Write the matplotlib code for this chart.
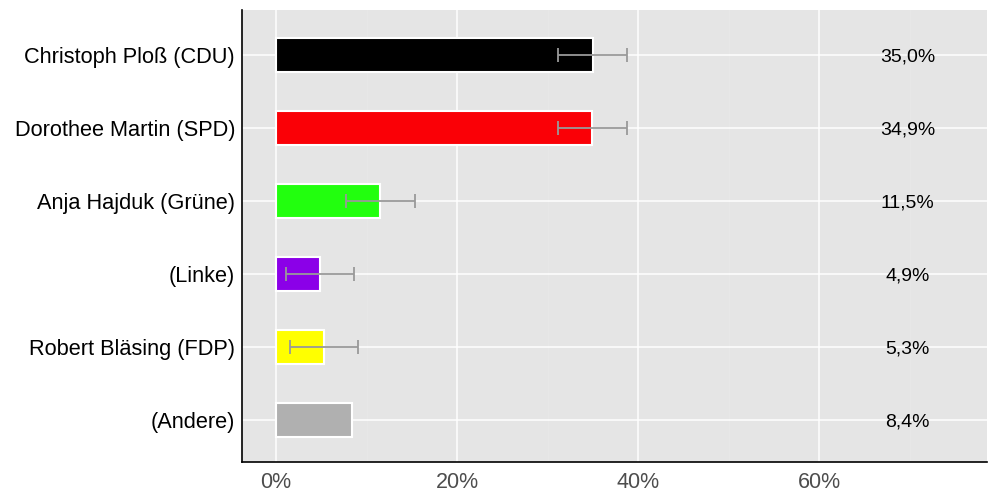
import matplotlib
matplotlib.use("Agg")
import matplotlib.pyplot as plt
from matplotlib.ticker import FuncFormatter, MultipleLocator

candidates = ["Christoph Ploß (CDU)", "Dorothee Martin (SPD)", "Anja Hajduk (Grüne)",
              "(Linke)", "Robert Bläsing (FDP)", "(Andere)"]
values = [35.0, 34.9, 11.5, 4.9, 5.3, 8.4]
err_low = [31.2, 31.2, 7.75, 1.1, 1.5, None]
err_high = [38.8, 38.8, 15.35, 8.65, 9.1, None]
labels = ["35,0%", "34,9%", "11,5%", "4,9%", "5,3%", "8,4%"]
colors = ["#000000", "#FA0006", "#22FF0E", "#8B00E8", "#FFFF00", "#B0B0B0"]

plt.rcParams['font.family'] = ['Liberation Sans', 'DejaVu Sans']

fig = plt.figure(figsize=(10, 5), dpi=100)
ax = fig.add_axes([0.242, 0.076, 0.745, 0.904])
ax.set_facecolor("#E5E5E5")

ypos = list(range(len(candidates)))
ax.barh(ypos, values, height=0.46, color=colors, edgecolor="white", linewidth=1.5, zorder=3)

for y, lo, hi, v in zip(ypos, err_low, err_high, values):
    if lo is None:
        continue
    ax.errorbar([(lo + hi) / 2], [y], xerr=[[(hi - lo) / 2], [(hi - lo) / 2]], fmt="none",
                ecolor="#999999", elinewidth=1.3, capsize=5, capthick=1.3, zorder=4)

for y, lab in zip(ypos, labels):
    ax.text(69.8, y + 0.03, lab, ha="center", va="center", fontsize=14, color="black", zorder=5)

ax.set_xlim(-3.76, 78.56)
ax.set_ylim(5.575, -0.616)
ax.set_yticks(ypos)
ax.set_yticklabels(candidates, fontsize=15.7, color="black")
ax.xaxis.set_major_locator(MultipleLocator(20))
ax.xaxis.set_minor_locator(MultipleLocator(10))
ax.xaxis.set_major_formatter(FuncFormatter(lambda x, p: f"{x:.0f}%"))
ax.tick_params(axis="x", labelsize=15.5, labelcolor="#4D4D4D", length=0, pad=7)
ax.tick_params(axis="x", which="minor", length=0)
ax.tick_params(axis="y", length=0, pad=5)

ax.grid(True, which="major", axis="both", color="white", linewidth=1.1, zorder=0)
ax.grid(True, which="minor", axis="x", color="#E8E8E8", linewidth=0.6, zorder=0)
ax.set_axisbelow(True)

for s in ["top", "right"]:
    ax.spines[s].set_visible(False)
for s in ["left", "bottom"]:
    ax.spines[s].set_color("black")
    ax.spines[s].set_linewidth(1.2)

fig.savefig("out.png", dpi=100)
